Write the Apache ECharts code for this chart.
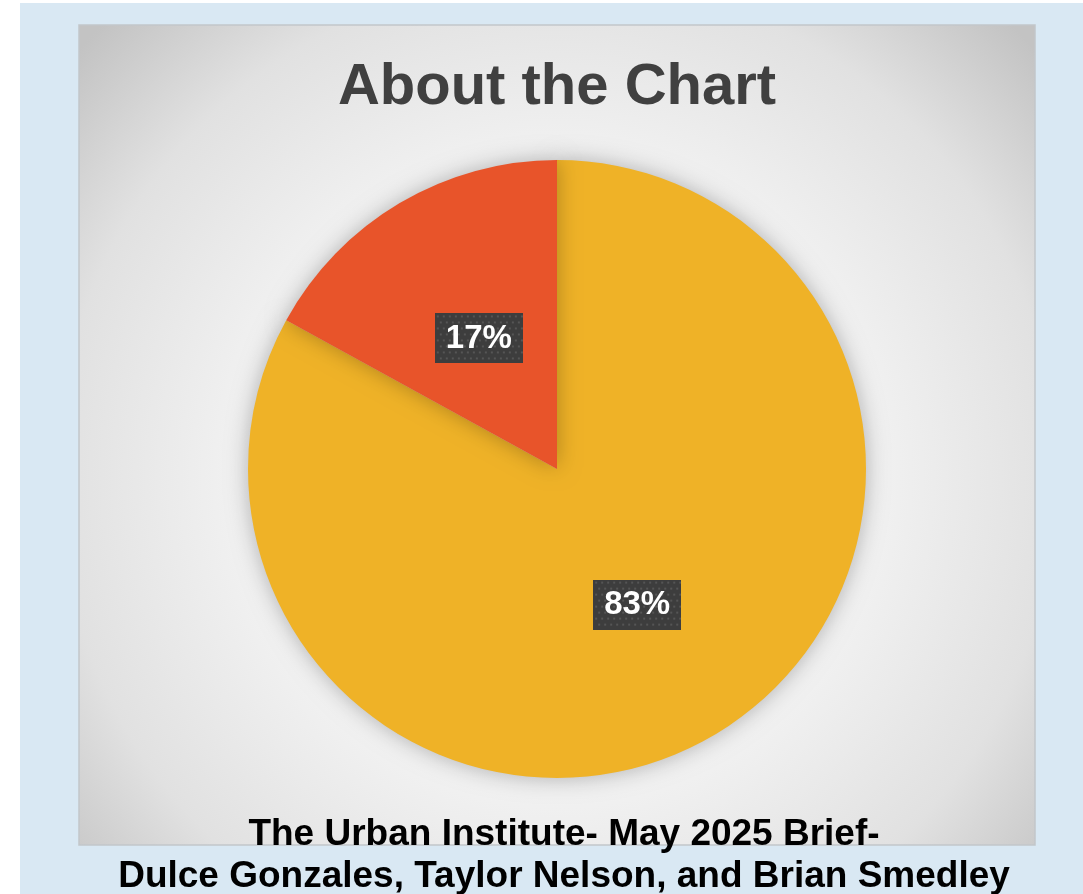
<!DOCTYPE html>
<html>
<head>
<meta charset="utf-8">
<script src="https://cdn.jsdelivr.net/npm/echarts@6/dist/echarts.min.js"></script>
<style>
  html, body { margin: 0; padding: 0; background: #ffffff; }
  #chart { width: 1083px; height: 894px; }
</style>
</head>
<body>
<div id="chart"></div>
<script>
// data
const categories = ['Majority', 'Minority'];
const shareValues = [83, 17];
const sliceColors = ['#efb227', '#e8542a'];

const titleText = 'About the Chart';
const footerLines = [
  'The Urban Institute- May 2025 Brief-',
  'Dulce Gonzales, Taylor Nelson, and Brian Smedley'
];

// dotted dark texture for the label boxes
function makeDotTexture(w, h) {
  const c = document.createElement('canvas');
  c.width = w;
  c.height = h;
  const ctx = c.getContext('2d');
  ctx.fillStyle = '#3d3d3d';
  ctx.fillRect(0, 0, w, h);
  ctx.fillStyle = '#555555';
  for (let y = 2, row = 0; y < h; y += 6, row++) {
    for (let x = (row % 2) * 3 + 2; x < w; x += 6) {
      ctx.fillRect(x, y, 2, 2);
    }
  }
  return c;
}
const dotTexture = makeDotTexture(88, 50);

const chart = echarts.init(document.getElementById('chart'));

const footerFont = 'bold 37px "Liberation Sans", Arial, sans-serif';

const option = {
  animation: false,
  graphic: [
    {
      type: 'rect',
      z: -10,
      shape: { x: 20, y: 3, width: 1063, height: 891 },
      style: { fill: '#d9e8f3' }
    },
    {
      type: 'rect',
      z: -9,
      shape: { x: 79, y: 25, width: 956, height: 820 },
      style: {
        fill: {
          type: 'radial', x: 0.5, y: 0.55, r: 0.78,
          colorStops: [
            { offset: 0, color: '#fafafa' },
            { offset: 0.5, color: '#f1f1f1' },
            { offset: 0.78, color: '#e1e1e1' },
            { offset: 1, color: '#c3c3c3' }
          ]
        },
        stroke: '#c2c6ca',
        lineWidth: 1.5
      }
    },
    {
      type: 'text',
      style: {
        x: 557, y: 59,
        text: titleText,
        fill: '#404040',
        font: 'bold 58px "Liberation Sans", Arial, sans-serif',
        textAlign: 'center',
        textVerticalAlign: 'top'
      }
    },
    {
      type: 'text',
      style: {
        x: 564, y: 816,
        text: footerLines[0],
        fill: '#000000',
        font: footerFont,
        textAlign: 'center',
        textVerticalAlign: 'top'
      }
    },
    {
      type: 'text',
      style: {
        x: 564, y: 858,
        text: footerLines[1],
        fill: '#000000',
        font: footerFont,
        textAlign: 'center',
        textVerticalAlign: 'top'
      }
    }
  ],
  series: [{
    type: 'pie',
    center: [557, 469],
    radius: 309,
    startAngle: 90,
    clockwise: true,
    silent: true,
    itemStyle: {
      borderWidth: 0,
      shadowBlur: 22,
      shadowColor: 'rgba(0,0,0,0.28)'
    },
    label: {
      show: true,
      position: 'inside',
      formatter: '{c}%',
      color: '#ffffff',
      fontFamily: '"Liberation Sans", Arial, sans-serif',
      fontWeight: 'bold',
      fontSize: 33,
      lineHeight: 33,
      backgroundColor: { image: dotTexture },
      padding: [9, 11, 8, 11],
      shadowBlur: 8,
      shadowOffsetX: 5,
      shadowOffsetY: 5,
      shadowColor: 'rgba(0,0,0,0.55)'
    },
    labelLine: { show: false },
    data: categories.map((name, i) => ({
      name: name,
      value: shareValues[i],
      itemStyle: { color: sliceColors[i] },
      label: i === 1 ? { offset: [2, 5] } : {}
    }))
  }]
};

chart.setOption(option);
</script>
</body>
</html>
